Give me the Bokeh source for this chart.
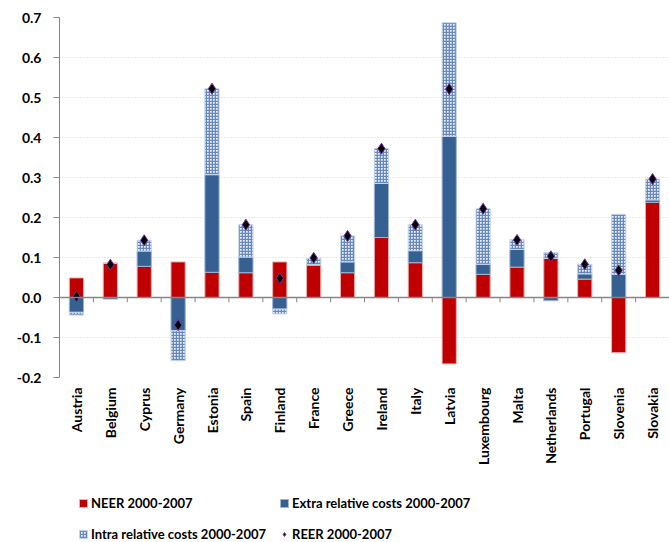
import numpy as np
from bokeh.plotting import figure
from bokeh.layouts import column
from bokeh.models import (ColumnDataSource, FixedTicker, LinearAxis, Legend, LegendItem,
                          Range1d, NumeralTickFormatter, Span)
from bokeh.embed import file_html
from bokeh.resources import INLINE

countries = ["Austria", "Belgium", "Cyprus", "Germany", "Estonia", "Spain", "Finland", "France",
             "Greece", "Ireland", "Italy", "Latvia", "Luxembourg", "Malta", "Netherlands",
             "Portugal", "Slovenia", "Slovakia"]
neer = [0.049, 0.086, 0.078, 0.089, 0.063, 0.062, 0.089, 0.080, 0.062, 0.150, 0.087, -0.166,
        0.058, 0.076, 0.098, 0.046, -0.138, 0.238]
extra = [-0.037, -0.004, 0.038, -0.083, 0.244, 0.039, -0.029, 0.002, 0.027, 0.135, 0.030, 0.403,
         0.025, 0.044, -0.008, 0.013, 0.058, 0.006]
intra = [-0.007, 0.000, 0.027, -0.075, 0.215, 0.081, -0.012, 0.016, 0.065, 0.088, 0.065, 0.284,
         0.139, 0.025, 0.014, 0.024, 0.150, 0.052]
reer = [0.003, 0.082, 0.143, -0.069, 0.522, 0.182, 0.048, 0.099, 0.154, 0.372, 0.182, 0.521,
        0.222, 0.144, 0.103, 0.083, 0.068, 0.296]
y_ticks = [-0.2, -0.1, 0.0, 0.1, 0.2, 0.3, 0.4, 0.5, 0.6, 0.7]
series_labels = ["NEER 2000-2007", "Extra relative costs 2000-2007",
                 "Intra relative costs 2000-2007", "REER 2000-2007"]

FONT = "Lato"
RED, BLUE = "#C00000", "#376092"
RED_EDGE, BLUE_EDGE = "#e8b4b4", "#9db5d6"
HATCH = dict(fill_color="#eef2f8", line_color="#c6d4e8", hatch_pattern="cross",
             hatch_color="#6688bb", hatch_scale=3, hatch_weight=1.6)
DIAMOND = dict(marker="diamond", size=11, fill_color="black", line_color="#7030a0", line_width=1)

x = np.arange(len(countries))

# stacking: positives upward, negatives downward
pos_base = np.zeros(len(x))
neg_base = np.zeros(len(x))
stacks = []
for vals in (neer, extra, intra):
    v = np.array(vals)
    bottom = np.where(v >= 0, pos_base, neg_base)
    top = bottom + v
    pos_base = np.where(v >= 0, top, pos_base)
    neg_base = np.where(v < 0, top, neg_base)
    stacks.append(ColumnDataSource(dict(x=x, bottom=bottom, top=top)))
reer_src = ColumnDataSource(dict(x=x, y=reer))


def draw_series(fig, visible=True):
    r1 = fig.vbar(x="x", bottom="bottom", top="top", width=0.42, source=stacks[0],
                  fill_color=RED, line_color=RED_EDGE, line_width=1, visible=visible)
    r2 = fig.vbar(x="x", bottom="bottom", top="top", width=0.42, source=stacks[1],
                  fill_color=BLUE, line_color=BLUE_EDGE, line_width=1, visible=visible)
    r3 = fig.vbar(x="x", bottom="bottom", top="top", width=0.42, source=stacks[2],
                  line_width=1, visible=visible, **HATCH)
    return r1, r2, r3


p = figure(width=669, height=486, output_backend="svg", toolbar_location=None,
           x_range=Range1d(-0.5, len(countries) - 0.5), y_range=Range1d(-0.2, 0.7),
           x_axis_location=None, min_border_left=59, min_border_right=0, min_border_top=17,
           min_border_bottom=109)
p.outline_line_color = None
p.xgrid.visible = False
p.ygrid.ticker = FixedTicker(ticks=y_ticks)
p.ygrid.grid_line_color = "#d9d9d9"
p.ygrid.grid_line_dash = "1 2"

yax = p.yaxis[0]
yax.ticker = FixedTicker(ticks=y_ticks)
yax.formatter = NumeralTickFormatter(format="0.0")
yax.major_label_text_font = FONT
yax.major_label_text_font_style = "bold"
yax.major_label_text_font_size = "14px"
yax.major_label_text_color = "black"
yax.axis_line_color = "#868686"
yax.major_tick_line_color = "#868686"
yax.major_tick_out = 6
yax.major_tick_in = 0
yax.minor_tick_line_color = None
yax.major_label_standoff = 12

draw_series(p)

# zero line with ticks between categories
p.add_layout(Span(location=0, dimension="width", line_color="#868686", line_width=1.5))
bounds = np.arange(len(countries) + 1) - 0.5
p.segment(x0=bounds, y0=np.zeros(len(bounds)), x1=bounds, y1=np.full(len(bounds), -0.012),
          line_color="#868686", line_width=1)

p.scatter(x="x", y="y", source=reer_src, **DIAMOND)

# category labels axis
lab_ax = LinearAxis(ticker=FixedTicker(ticks=list(x)),
                    major_label_overrides={int(i): c for i, c in zip(x, countries)})
lab_ax.axis_line_color = None
lab_ax.major_tick_line_color = None
lab_ax.minor_tick_line_color = None
lab_ax.major_tick_out = 0
lab_ax.major_tick_in = 0
lab_ax.major_label_orientation = np.pi / 2
lab_ax.major_label_text_font = FONT
lab_ax.major_label_text_font_style = "bold"
lab_ax.major_label_text_font_size = "14px"
lab_ax.major_label_text_color = "black"
lab_ax.major_label_standoff = 10
p.add_layout(lab_ax, "below")

# legend strip below the chart (hidden copies of the series provide the legend glyphs)
lg = figure(width=669, height=56, output_backend="svg", toolbar_location=None,
            x_range=Range1d(-0.5, len(countries) - 0.5), y_range=Range1d(-0.2, 0.7),
            x_axis_location=None, y_axis_location=None, min_border=0)
lg.outline_line_color = None
lg.grid.visible = False
r_red, r_blue, r_hat = draw_series(lg, visible=False)
r_dia = lg.scatter(x="x", y="y", source=reer_src, visible=False, **DIAMOND)

legend = Legend(items=[
    LegendItem(label=series_labels[0], renderers=[r_red]),
    LegendItem(label=series_labels[2], renderers=[r_hat]),
    LegendItem(label=series_labels[1], renderers=[r_blue]),
    LegendItem(label=series_labels[3], renderers=[r_dia]),
], ncols=2)
legend.location = (19, -1)
legend.border_line_color = None
legend.background_fill_alpha = 0
legend.label_text_font = FONT
legend.label_text_font_style = "bold"
legend.label_text_font_size = "13px"
legend.label_text_color = "black"
legend.glyph_width = 10
legend.glyph_height = 10
legend.label_standoff = 3
legend.label_height = 18
legend.spacing = 13
legend.padding = 0
legend.margin = 0
legend.click_policy = "none"
lg.add_layout(legend, "center")

open("out.html", "w").write(file_html(column(p, lg, spacing=0), INLINE))
